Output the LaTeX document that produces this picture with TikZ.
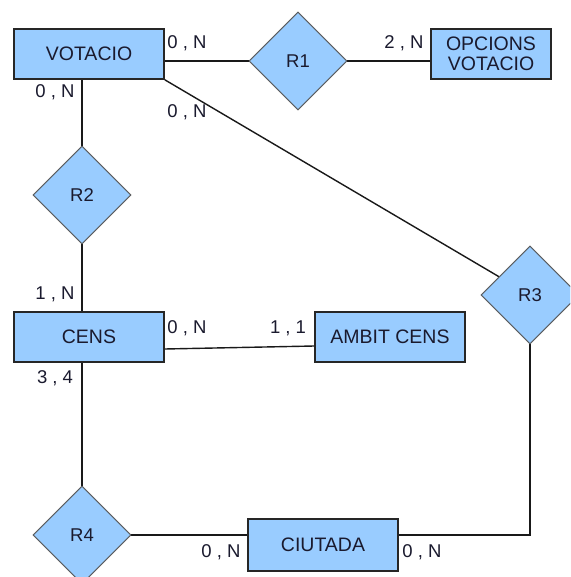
\documentclass[tikz,border=0pt]{standalone}
\usepackage{fontspec}
\setmainfont{Liberation Sans}
\usetikzlibrary{shapes.geometric}
\definecolor{erfill}{HTML}{99CCFF}
\definecolor{ertext}{HTML}{1A1A2E}
\tikzset{
  entity/.style={draw=black!85, line width=1.6pt, fill=erfill, inner sep=0pt,
    minimum width=150pt, minimum height=50pt, text=ertext, font=\fontsize{19.5}{20}\selectfont, align=center},
  rel/.style={diamond, draw=black!65, line width=0.9pt, fill=erfill, inner sep=0pt,
    minimum width=98pt, minimum height=98pt, text=ertext, font=\fontsize{18.5}{19}\selectfont},
  conn/.style={draw=black!90, line width=1.4pt},
  card/.style={inner sep=0pt, text=ertext, font=\fontsize{18.5}{19}\selectfont}
}
\begin{document}
\begin{tikzpicture}[x=1pt,y=-1pt]
\clip (0,0) rectangle (570,577);
\fill[white] (0,0) rectangle (570,577);
% entities
\node[entity] (V) at (89,54) {VOTACIO};
\node[entity, minimum width=120pt] (O) at (491,54) {OPCIONS\\VOTACIO};
\node[entity] (C) at (89,337) {CENS};
\node[entity] (A) at (390,337) {AMBIT CENS};
\node[entity, minimum height=52pt] (CI) at (323,545) {CIUTADA};
% relations
\node[rel] (R1) at (298,61) {R1};
\node[rel] (R2) at (82,195) {R2};
\node[rel] (R3) at (530,295) {R3};
\node[rel] (R4) at (82,535) {R4};
% connectors
\draw[conn] (R1.west) -- (R1.west -| V.east);
\draw[conn] (R1.east) -- (R1.east -| O.west);
\draw[conn] (R2.north) -- (R2.north |- V.south);
\draw[conn] (R2.south) -- (R2.south |- C.north);
\draw[conn] (R4.north) -- (R4.north |- C.south);
\draw[conn] (V.south east) -- (R3);
\draw[conn] ([yshift=-12pt]C.east) -- ([yshift=-9pt]A.west);
\draw[conn] (R4.east) -- (R4.east -| CI.west);
\draw[conn] (R4.east -| CI.east) -| (R3.south);
% redraw relations on top of connectors
\node[rel] at (R3) {R3};
\node[rel] at (R4) {R4};
\node[rel] at (R1) {R1};
\node[rel] at (R2) {R2};
% cardinalities
\node[card] (c1) at (187,43) {0 , N};
\node[card] (c2) at (55,92) {0 , N};
\node[card] (c3) at (187,112) {0 , N};
\node[card] (c4) at (404,43) {2 , N};
\node[card] (c5) at (55,294) {1 , N};
\node[card] (c6) at (187,328) {0 , N};
\node[card] (c7) at (288,328) {1 , 1};
\node[card] (c8) at (55,378) {3 , 4};
\node[card] (c9) at (221,552) {0 , N};
\node[card] (c10) at (422,552) {0 , N};
\end{tikzpicture}
\end{document}
